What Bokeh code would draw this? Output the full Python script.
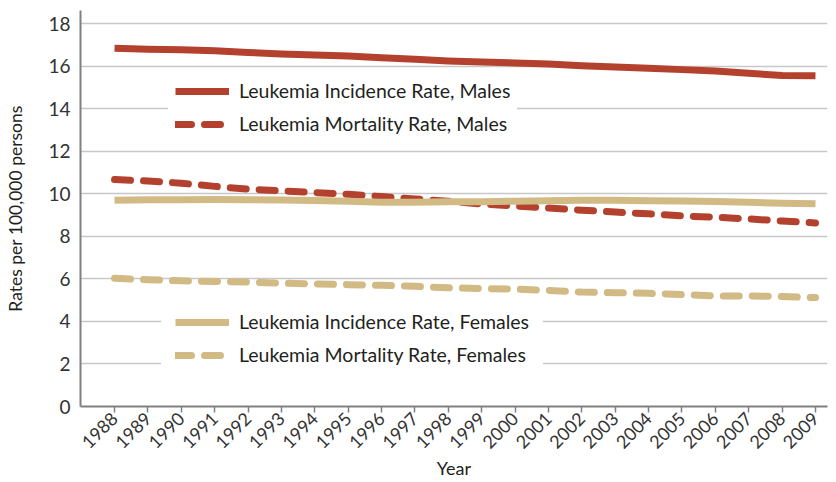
import math
from bokeh.plotting import figure
from bokeh.models import Range1d, FixedTicker, Legend, LegendItem
from bokeh.embed import file_html
from bokeh.resources import INLINE

years = list(range(1988, 2010))
male_incidence = [16.85, 16.80, 16.77, 16.73, 16.65, 16.58, 16.53, 16.48, 16.40, 16.33, 16.25,
                  16.20, 16.15, 16.10, 16.02, 15.96, 15.90, 15.84, 15.77, 15.67, 15.56, 15.55]
male_mortality = [10.67, 10.60, 10.50, 10.35, 10.22, 10.14, 10.06, 9.98, 9.87, 9.76, 9.65,
                  9.52, 9.43, 9.33, 9.23, 9.14, 9.06, 8.96, 8.90, 8.82, 8.72, 8.63]
female_incidence = [9.70, 9.72, 9.72, 9.73, 9.72, 9.71, 9.69, 9.65, 9.60, 9.60, 9.63,
                    9.63, 9.65, 9.68, 9.70, 9.70, 9.68, 9.66, 9.64, 9.60, 9.56, 9.53]
female_mortality = [6.03, 5.96, 5.91, 5.88, 5.85, 5.80, 5.76, 5.73, 5.70, 5.65, 5.58,
                    5.55, 5.52, 5.46, 5.38, 5.35, 5.32, 5.26, 5.20, 5.20, 5.17, 5.12]
y_ticks = [0, 2, 4, 6, 8, 10, 12, 14, 16, 18]
labels_males = ["Leukemia Incidence Rate, Males", "Leukemia Mortality Rate, Males"]
labels_females = ["Leukemia Incidence Rate, Females", "Leukemia Mortality Rate, Females"]
x_title = "Year"
y_title = "Rates per 100,000 persons"

RED = "#B4412D"
TAN = "#D2BA85"
FONT = "Lato"
TEXT = "#231F20"
AXIS = "#808080"

p = figure(width=836, height=482, output_backend="svg", toolbar_location=None,
           x_range=Range1d(1986.98, 2009.36), y_range=Range1d(0, 18.62),
           min_border_left=80, min_border_right=9, min_border_top=10, min_border_bottom=74)
p.outline_line_color = None

r_mm = p.line(years, male_mortality, line_color=RED, line_width=7, line_dash="16 13",
              line_cap="round", line_join="round")
r_mi = p.line(years, male_incidence, line_color=RED, line_width=7, line_cap="butt",
              line_join="round")
r_fm = p.line(years, female_mortality, line_color=TAN, line_width=7, line_dash="16 13",
              line_cap="round", line_join="round")
r_fi = p.line(years, female_incidence, line_color=TAN, line_width=7, line_cap="butt",
              line_join="round")

# grid
p.xgrid.grid_line_color = None
p.ygrid.ticker = FixedTicker(ticks=y_ticks)
p.ygrid.grid_line_color = "#C8C8C8"
p.ygrid.grid_line_width = 1.5

# axes
p.xaxis.ticker = FixedTicker(ticks=years)
p.xaxis.major_label_orientation = math.pi / 4
p.xaxis.major_label_text_font = FONT
p.xaxis.major_label_text_font_size = "18px"
p.xaxis.major_label_text_color = "#333333"
p.xaxis.major_label_standoff = 3
p.xaxis.major_tick_out = 6
p.xaxis.major_tick_in = 0
p.xaxis.minor_tick_line_color = None
p.xaxis.major_tick_line_color = AXIS
p.xaxis.major_tick_line_width = 1.5
p.xaxis.axis_line_color = AXIS
p.xaxis.axis_line_width = 2
p.xaxis.axis_label = x_title
p.xaxis.axis_label_text_font = FONT
p.xaxis.axis_label_text_font_style = "normal"
p.xaxis.axis_label_text_font_size = "18px"
p.xaxis.axis_label_text_color = TEXT
p.xaxis.axis_label_standoff = 0

p.yaxis.ticker = FixedTicker(ticks=y_ticks)
p.yaxis.major_label_text_font = FONT
p.yaxis.major_label_text_font_size = "19px"
p.yaxis.major_label_text_color = "#333333"
p.yaxis.major_label_standoff = 10
p.yaxis.major_tick_out = 0
p.yaxis.major_tick_in = 0
p.yaxis.minor_tick_line_color = None
p.yaxis.axis_line_color = AXIS
p.yaxis.axis_line_width = 2
p.yaxis.axis_label = y_title
p.yaxis.axis_label_text_font = FONT
p.yaxis.axis_label_text_font_style = "normal"
p.yaxis.axis_label_text_font_size = "17.5px"
p.yaxis.axis_label_text_color = TEXT
p.yaxis.axis_label_standoff = 19


def make_legend(items, location, padding):
    return Legend(items=items, location=location, orientation="vertical",
                  glyph_width=54, glyph_height=20, label_height=20, label_standoff=10,
                  spacing=10, padding=padding, margin=0,
                  border_line_alpha=0, background_fill_color="white", background_fill_alpha=1,
                  label_text_font=FONT, label_text_font_size="19.5px", label_text_color=TEXT)


leg_m = make_legend([LegendItem(label=labels_males[0], renderers=[r_mi]),
                     LegendItem(label=labels_males[1], renderers=[r_mm])], (88, 264), 7)
leg_f = make_legend([LegendItem(label=labels_females[0], renderers=[r_fi]),
                     LegendItem(label=labels_females[1], renderers=[r_fm])], (81, 26), 14)
p.add_layout(leg_m)
p.add_layout(leg_f)

open("out.html", "w").write(file_html(p, INLINE))
